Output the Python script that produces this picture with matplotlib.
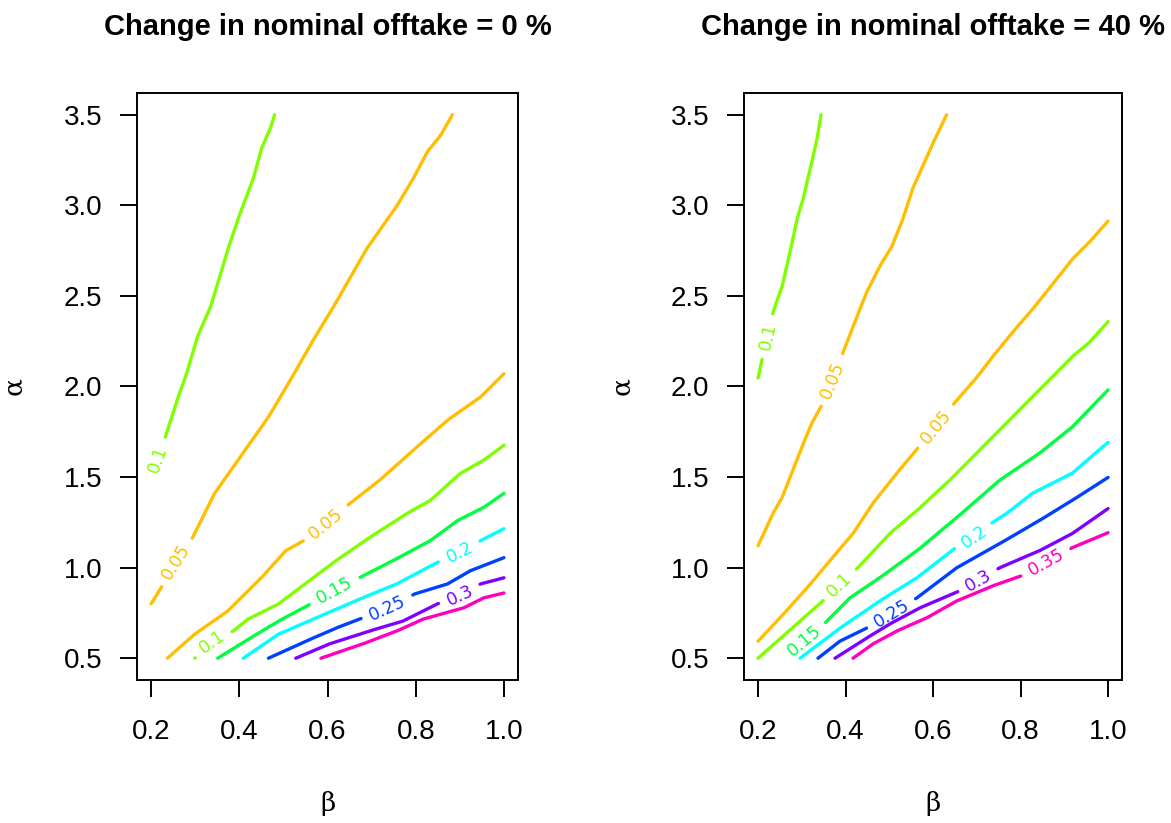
import numpy as np
import matplotlib
matplotlib.use("Agg")
import matplotlib.pyplot as plt

plt.rcParams['font.family'] = ['Liberation Sans', 'DejaVu Sans']

# contour colours, as R's rainbow(8) for levels 0.05 ... 0.35
level_colors = {"0.05": "#FFBF00", "0.1": "#80FF00", "0.15": "#00FF40", "0.2": "#00FFFF",
                "0.25": "#0040FF", "0.3": "#8000FF", "0.35": "#FF00BF"}

x_ticks = [0.2, 0.4, 0.6, 0.8, 1.0]
x_ticklabels = ["0.2", "0.4", "0.6", "0.8", "1.0"]
y_ticks = [0.5, 1.0, 1.5, 2.0, 2.5, 3.0, 3.5]
y_ticklabels = ["0.5", "1.0", "1.5", "2.0", "2.5", "3.0", "3.5"]
titles = ["Change in nominal offtake = 0 %", "Change in nominal offtake = 40 %"]

# ---- left panel: change in offtake = 0 % ----
l010a_beta = [0.2, 0.214, 0.230, 0.2596, 0.278, 0.305, 0.335, 0.374, 0.397, 0.4315, 0.450, 0.470, 0.480]
l010a_alpha = [1.50, 1.598, 1.704, 1.93, 2.053, 2.275, 2.441, 2.757, 2.924, 3.146, 3.312, 3.423, 3.5]
l010a_label = (0.214, 1.598)

l005a_beta = [0.2, 0.225, 0.257, 0.294, 0.344, 0.413, 0.466, 0.516, 0.564, 0.610, 0.649, 0.688,
              0.725, 0.757, 0.794, 0.826, 0.856, 0.883]
l005a_alpha = [0.800, 0.899, 1.030, 1.166, 1.410, 1.648, 1.831, 2.036, 2.242, 2.425, 2.591, 2.757,
               2.885, 2.996, 3.146, 3.295, 3.384, 3.5]
l005a_label = (0.257, 1.030)

l005b_beta = [0.237, 0.299, 0.374, 0.450, 0.505, 0.546, 0.597, 0.645, 0.718, 0.794, 0.872, 0.947, 1.0]
l005b_alpha = [0.5, 0.633, 0.761, 0.944, 1.093, 1.149, 1.243, 1.343, 1.482, 1.648, 1.814, 1.942, 2.07]
l005b_label = (0.597, 1.243)

l010b_beta = [0.299, 0.3375, 0.386, 0.420, 0.489, 0.558, 0.619, 0.695, 0.780, 0.833, 0.901, 0.954, 1.0]
l010b_alpha = [0.5, 0.589, 0.650, 0.716, 0.800, 0.927, 1.038, 1.166, 1.299, 1.371, 1.520, 1.593, 1.676]
l010b_label = (0.3375, 0.589)

l015_beta = [0.351, 0.413, 0.489, 0.562, 0.615, 0.672, 0.748, 0.833, 0.895, 0.954, 1.0]
l015_alpha = [0.5, 0.594, 0.705, 0.800, 0.872, 0.944, 1.038, 1.149, 1.260, 1.332, 1.410]
l015_label = (0.615, 0.872)

l020_beta = [0.409, 0.489, 0.574, 0.679, 0.757, 0.856, 0.901, 0.947, 1.0]
l020_alpha = [0.5, 0.633, 0.722, 0.833, 0.910, 1.038, 1.082, 1.149, 1.215]
l020_label = (0.901, 1.082)

l025_beta = [0.466, 0.551, 0.619, 0.679, 0.736, 0.798, 0.872, 0.924, 1.0]
l025_alpha = [0.5, 0.594, 0.666, 0.722, 0.777, 0.855, 0.910, 0.983, 1.055]
l025_label = (0.736, 0.777)

l030_beta = [0.528, 0.603, 0.695, 0.771, 0.849, 0.901, 0.947, 1.0]
l030_alpha = [0.5, 0.578, 0.650, 0.705, 0.800, 0.844, 0.910, 0.944]
l030_label = (0.901, 0.844)

l035_beta = [0.585, 0.679, 0.757, 0.817, 0.908, 0.954, 1.0]
l035_alpha = [0.5, 0.578, 0.650, 0.716, 0.777, 0.833, 0.860]

# ---- right panel: change in offtake = 40 % ----
r010a_beta = [0.2, 0.209, 0.223, 0.234, 0.255, 0.273, 0.289, 0.303, 0.323, 0.335, 0.344]
r010a_alpha = [2.047, 2.147, 2.275, 2.408, 2.552, 2.741, 2.924, 3.035, 3.240, 3.368, 3.5]
r010a_label = (0.223, 2.275)

r005a_beta = [0.2, 0.234, 0.255, 0.273, 0.300, 0.323, 0.346, 0.369, 0.394, 0.426, 0.448, 0.478,
              0.506, 0.531, 0.553, 0.581, 0.599, 0.631]
r005a_alpha = [1.121, 1.299, 1.387, 1.498, 1.665, 1.798, 1.898, 2.036, 2.186, 2.386, 2.519, 2.663,
               2.774, 2.924, 3.090, 3.240, 3.340, 3.5]
r005a_label = (0.369, 2.036)

r005b_beta = [0.2, 0.250, 0.312, 0.364, 0.417, 0.462, 0.517, 0.565, 0.608, 0.649, 0.699, 0.736,
              0.781, 0.827, 0.882, 0.918, 0.957, 1.0]
r005b_alpha = [0.594, 0.722, 0.888, 1.038, 1.188, 1.354, 1.521, 1.659, 1.776, 1.909, 2.047, 2.164,
               2.297, 2.425, 2.591, 2.702, 2.796, 2.913]
r005b_label = (0.608, 1.776)

r010b_beta = [0.2, 0.296, 0.348, 0.387, 0.428, 0.501, 0.563, 0.638, 0.690, 0.752, 0.804, 0.866, 0.918, 0.957, 1.0]
r010b_alpha = [0.5, 0.705, 0.816, 0.905, 0.999, 1.188, 1.315, 1.482, 1.609, 1.759, 1.887, 2.036, 2.164, 2.242, 2.358]
r010b_label = (0.387, 0.905)

r015_beta = [0.257, 0.305, 0.353, 0.410, 0.478, 0.563, 0.654, 0.752, 0.843, 0.918, 1.0]
r015_alpha = [0.5, 0.594, 0.694, 0.833, 0.944, 1.093, 1.276, 1.482, 1.631, 1.776, 1.981]
r015_label = (0.305, 0.594)

r020_beta = [0.296, 0.387, 0.478, 0.563, 0.649, 0.695, 0.736, 0.768, 0.827, 0.918, 1.0]
r020_alpha = [0.5, 0.666, 0.816, 0.944, 1.105, 1.166, 1.249, 1.299, 1.410, 1.521, 1.692]
r020_label = (0.695, 1.166)

r025_beta = [0.337, 0.387, 0.448, 0.505, 0.563, 0.654, 0.752, 0.843, 0.918, 1.0]
r025_alpha = [0.5, 0.594, 0.666, 0.744, 0.833, 0.999, 1.132, 1.260, 1.371, 1.498]
r025_label = (0.505, 0.744)

r030_beta = [0.376, 0.448, 0.501, 0.569, 0.661, 0.704, 0.752, 0.843, 0.918, 1.0]
r030_alpha = [0.5, 0.611, 0.689, 0.777, 0.872, 0.927, 0.999, 1.093, 1.188, 1.326]
r030_label = (0.704, 0.927)

r035_beta = [0.417, 0.462, 0.517, 0.585, 0.654, 0.736, 0.802, 0.859, 0.918, 1.0]
r035_alpha = [0.5, 0.578, 0.650, 0.722, 0.816, 0.899, 0.955, 1.027, 1.110, 1.193]
r035_label = (0.859, 1.027)

left_lines = [
    ("0.1", l010a_beta, l010a_alpha, l010a_label),
    ("0.05", l005a_beta, l005a_alpha, l005a_label),
    ("0.05", l005b_beta, l005b_alpha, l005b_label),
    ("0.1", l010b_beta, l010b_alpha, l010b_label),
    ("0.15", l015_beta, l015_alpha, l015_label),
    ("0.2", l020_beta, l020_alpha, l020_label),
    ("0.25", l025_beta, l025_alpha, l025_label),
    ("0.3", l030_beta, l030_alpha, l030_label),
    ("0.35", l035_beta, l035_alpha, None),
]
right_lines = [
    ("0.1", r010a_beta, r010a_alpha, r010a_label),
    ("0.05", r005a_beta, r005a_alpha, r005a_label),
    ("0.05", r005b_beta, r005b_alpha, r005b_label),
    ("0.1", r010b_beta, r010b_alpha, r010b_label),
    ("0.15", r015_beta, r015_alpha, r015_label),
    ("0.2", r020_beta, r020_alpha, r020_label),
    ("0.25", r025_beta, r025_alpha, r025_label),
    ("0.3", r030_beta, r030_alpha, r030_label),
    ("0.35", r035_beta, r035_alpha, r035_label),
]

LABEL_FS = 12.5


def draw_contour(ax, level, beta, alpha, label_at):
    """Draw one contour line, cutting a gap for its inline label (like R's contour())."""
    color = level_colors[level]
    b = np.asarray(beta, dtype=float)
    a = np.asarray(alpha, dtype=float)
    # finer sampling along the same polyline so the gap edges are clean
    t = np.linspace(0, len(b) - 1, (len(b) - 1) * 40 + 1)
    idx = np.arange(len(b))
    bd = np.interp(t, idx, b)
    ad = np.interp(t, idx, a)
    if label_at is not None:
        xy = ax.transData.transform(np.column_stack([bd, ad]))
        cx, cy = ax.transData.transform(label_at)
        ndig = len(level) - 1
        width_px = LABEL_FS * 100 / 72 * (0.636 * ndig + 0.318)
        r = width_px / 2 + 9
        inside = np.hypot(xy[:, 0] - cx, xy[:, 1] - cy) < r
        pts = xy[inside]
        dx, dy = pts[-1] - pts[0]
        ang = np.degrees(np.arctan2(dy, dx))
        if ang > 90:
            ang -= 180
        elif ang < -90:
            ang += 180
        bd = np.where(inside, np.nan, bd)
        ax.text(label_at[0], label_at[1], level, color=color, fontsize=LABEL_FS,
                family='DejaVu Sans', rotation=ang, rotation_mode='anchor',
                ha='center', va='center')
    ax.plot(bd, ad, color=color, lw=2.4, solid_capstyle='round')


fig = plt.figure(figsize=(11.71, 8.23), dpi=100)
axes = [fig.add_axes([0.117, 0.1738, 0.3254, 0.7132]),
        fig.add_axes([0.6354, 0.1738, 0.3228, 0.7132])]

for ax, title, lines in zip(axes, titles, [left_lines, right_lines]):
    ax.set_xlim(0.168, 1.032)
    ax.set_ylim(0.38, 3.62)
    ax.set_xticks(x_ticks)
    ax.set_xticklabels(x_ticklabels)
    ax.set_yticks(y_ticks)
    ax.set_yticklabels(y_ticklabels)
    ax.tick_params(axis='both', direction='out', length=12, width=1.4, labelsize=20)
    ax.tick_params(axis='x', pad=16)
    ax.tick_params(axis='y', pad=13)
    for sp in ax.spines.values():
        sp.set_linewidth(1.4)
    ax.set_xlabel("β", family='DejaVu Serif', fontsize=19)
    ax.xaxis.set_label_coords(0.5, -0.19)
    ax.set_ylabel("α", family='DejaVu Serif', fontsize=19)
    ax.yaxis.set_label_coords(-0.29, 0.5)
    ax.set_title(title, fontsize=21, fontweight='bold')
    ax.title.set_transform(ax.transAxes + matplotlib.transforms.ScaledTranslation(0, 58 / 100, fig.dpi_scale_trans))
    for level, beta, alpha, label_at in lines:
        draw_contour(ax, level, beta, alpha, label_at)

fig.savefig("out.png", dpi=100)
